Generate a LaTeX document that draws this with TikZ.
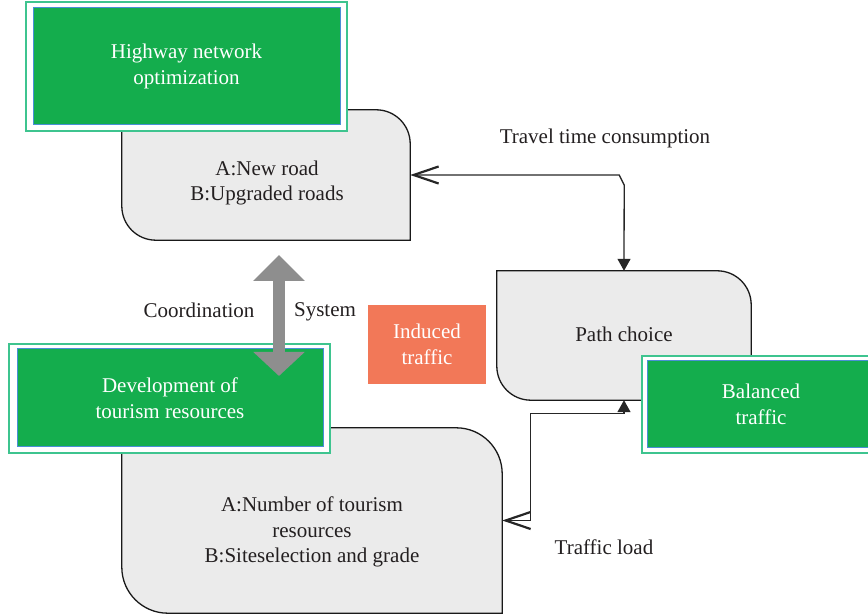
\documentclass[tikz,border=0pt]{standalone}
\usepackage{fontspec}
\setmainfont{Liberation Serif}
\usetikzlibrary{arrows.meta}

\definecolor{boxgreen}{RGB}{20,173,77}
\definecolor{frameteal}{RGB}{62,196,143}
\definecolor{edgeblue}{RGB}{74,143,214}
\definecolor{panelgrey}{RGB}{235,235,235}
\definecolor{inkdark}{RGB}{35,31,32}
\definecolor{inducedsalmon}{RGB}{242,120,88}
\definecolor{shaftgrey}{RGB}{142,142,142}

% grey panel outline: sharp top-left / bottom-right, rounded top-right / bottom-left
\newcommand\roundpanel[2]{%
  \draw[paneledge] (#1.north west) -- ([xshift=-#2]#1.north east)
    arc[start angle=90,end angle=0,radius=#2] -- (#1.south east)
    -- ([xshift=#2]#1.south west)
    arc[start angle=270,end angle=180,radius=#2] -- cycle;}

\begin{document}
\begin{tikzpicture}[x=1pt,y=1pt,
  every node/.style={font=\fontsize{21}{25.5}\selectfont, text=inkdark, inner sep=0pt, align=center},
  panelbox/.style={rectangle, draw=none},
  paneledge/.style={draw=black!90, line width=1.3pt, fill=panelgrey},
  outerframe/.style={rectangle, draw=frameteal, line width=1.5pt, fill=white},
  greencore/.style={rectangle, draw=edgeblue, line width=1pt, fill=boxgreen, text=white},
  conn/.style={draw=black!85, line width=1.3pt},
  flow/.style={conn, {Straight Barb[length=25pt,width=17pt,line width=2.2pt]}-{Triangle[length=12pt,width=13pt]}},
]
\useasboundingbox (0,0) rectangle (868,616);
\clip (0,0) rectangle (868,616);

% grey panels
\node[panelbox, minimum width=288pt, minimum height=130pt] (road) at (266,441) {};
\roundpanel{road}{34pt}
\node (roadtext) at (267,433) {A:New road\\B:Upgraded roads};

\node[panelbox, minimum width=254pt, minimum height=129pt] (choice) at (624,280.5) {};
\roundpanel{choice}{34pt}
\node (choicetext) at (624,282) {Path choice};

\node[panelbox, minimum width=380pt, minimum height=185pt] (tour) at (312,95.5) {};
\roundpanel{tour}{46pt}
\node (tourtext) at (312,84) {A:Number of tourism\\resources\\B:Siteselection and grade};

% green framed boxes
\node[outerframe, minimum width=321pt, minimum height=129pt] (hwframe) at (186.5,549.5) {};
\node[greencore, minimum width=307pt, minimum height=117pt] (hw) at (186.5,549.5) {Highway network\\optimization};

\node[outerframe, minimum width=321pt, minimum height=109pt] (devframe) at (169.5,217.5) {};
\node[greencore, minimum width=306pt, minimum height=98pt] (dev) at (170,218) {Development of\\tourism resources};

\node[outerframe, minimum width=238pt, minimum height=97pt] (balframe) at (761,211.5) {};
\node[greencore, minimum width=228pt, minimum height=87pt] (bal) at (761,211.5) {Balanced\\traffic};

% induced traffic
\node[rectangle, fill=inducedsalmon, text=white, minimum width=118pt, minimum height=79pt] (induced) at (427,271.5) {Induced\\traffic};

% connectors
\draw[flow] (road.east) -- ++(209,0) -- ++(5,-10) -- (choice.north);
\draw[flow] (tour.east) -- ++(28,0) |- ([yshift=-13pt]choice.south) -- (choice.south);

% coordination double arrow
\coordinate (systop) at (279,361);
\coordinate (sysbot) at (279,240);
\draw[draw=shaftgrey, line width=12pt,
  {Triangle[length=26pt,width=50pt]}-{Triangle[length=24pt,width=50pt]}]
  (systop) -- (sysbot);

% labels
\node (coord) at (199,306) {Coordination};
\node (system) at (325,304) {System};
\node (travel) at (605,478) {Travel time consumption};
\node (load) at (604,69) {Traffic load};
\end{tikzpicture}
\end{document}
